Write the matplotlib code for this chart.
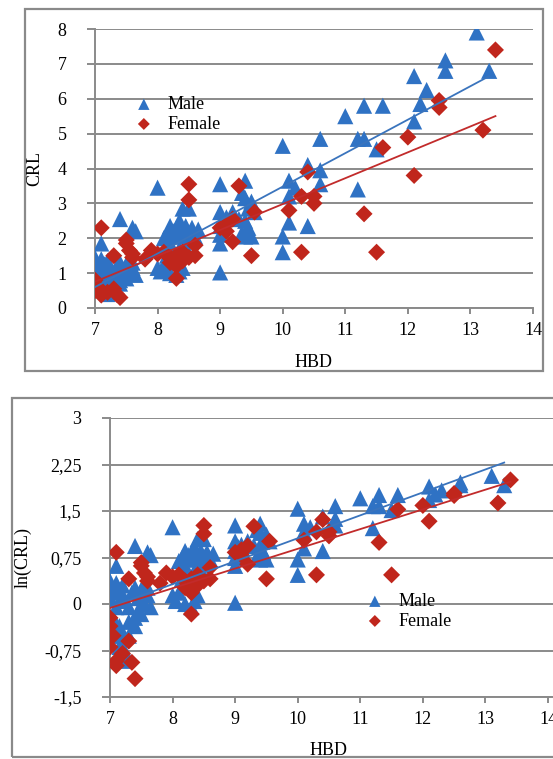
import numpy as np
import matplotlib
matplotlib.use("Agg")
import matplotlib.pyplot as plt
from matplotlib.patches import Rectangle

# ---------------- data ----------------
male_hbd = [13.1, 13.3, 12.6, 12.6, 12.1, 12.3, 12.2, 12.1, 11.0, 11.3, 11.6, 11.2, 11.3, 11.5, 11.2,
            10.6, 10.4, 10.6, 10.6, 10.0, 10.1, 10.2, 10.1, 10.1, 10.4, 10.0, 10.0,
            9.0, 9.4, 9.35, 9.4, 9.5, 9.45, 9.55, 9.4, 9.45, 9.35, 9.4, 9.5, 9.0, 9.1, 9.2, 9.0, 9.0,
            9.0, 9.05, 9.0, 9.3,
            8.0, 8.4, 8.5, 8.35, 8.45, 8.55, 8.65, 8.2, 8.25, 8.1, 8.15, 8.3, 8.2, 8.4, 8.5, 8.6,
            8.35, 8.45, 8.0, 8.05, 8.1, 8.2, 8.3, 8.4, 8.35, 8.15, 8.25, 8.5, 8.3, 8.45,
            7.1, 7.4, 7.6, 7.65, 7.0, 7.0, 7.05, 7.1, 7.15, 7.2, 7.2, 7.25, 7.3, 7.35, 7.4, 7.45,
            7.5, 7.55, 7.6, 7.65, 7.5, 7.4, 7.3, 7.0, 7.1, 7.05, 7.15, 7.2, 7.1, 7.15, 7.25, 7.2,
            7.3, 7.2, 7.4, 7.1, 7.45, 7.6, 7.55]
male_crl = [7.9, 6.8, 7.1, 6.8, 6.65, 6.25, 5.85, 5.35, 5.5, 5.8, 5.8, 4.85, 4.85, 4.55, 3.4,
            4.85, 4.1, 3.95, 3.55, 4.65, 3.65, 3.45, 3.2, 2.45, 2.35, 2.05, 1.6,
            3.55, 3.65, 3.3, 3.15, 3.05, 2.85, 2.75, 2.5, 2.3, 2.15, 2.05, 2.05, 2.75, 2.6, 2.75, 2.35, 2.1,
            1.85, 2.5, 1.02, 2.55,
            3.45, 2.85, 2.85, 2.5, 2.35, 2.3, 2.25, 2.35, 2.2, 2.0, 2.1, 2.05, 1.85, 2.05, 1.95, 2.05,
            1.7, 1.75, 1.15, 1.05, 1.2, 1.0, 0.95, 1.15, 1.05, 1.5, 1.55, 2.15, 2.3, 2.1,
            1.85, 2.55, 2.3, 2.2, 1.45, 1.3, 1.2, 1.4, 1.25, 1.35, 1.15, 1.05, 0.95, 1.2, 1.3, 1.1,
            1.25, 1.0, 1.15, 0.95, 0.85, 0.8, 0.75, 1.1, 0.95, 0.8, 0.7, 0.6, 0.6, 0.5, 0.45, 0.4,
            0.6, 0.5, 0.7, 0.65, 0.9, 1.3, 1.4]

female_hbd = [13.4, 13.2, 12.5, 12.5, 12.0, 12.1, 11.6, 11.3, 11.5,
              10.4, 10.3, 10.5, 10.5, 10.1, 10.3, 9.5, 9.3, 9.55, 9.2, 9.1, 9.0, 9.1, 9.2,
              8.5, 8.5, 8.6, 8.6, 8.5, 8.4, 8.3, 8.2, 8.1, 8.2, 8.0, 7.9, 8.3, 8.3, 8.4, 7.8,
              7.5, 7.55, 7.6, 7.5, 7.6, 7.3, 7.1, 7.0, 7.0, 7.0, 7.1, 7.1, 7.35, 7.4, 7.2, 7.05, 7.3]
female_crl = [7.4, 5.1, 5.95, 5.75, 4.9, 3.8, 4.6, 2.7, 1.6,
              3.9, 3.2, 3.2, 3.0, 2.8, 1.6, 1.5, 3.5, 2.75, 1.9, 2.2, 2.3, 2.4, 2.55,
              3.55, 3.1, 1.8, 1.5, 1.45, 1.6, 0.85, 1.3, 1.6, 1.45, 1.55, 1.65, 1.2, 1.5, 1.35, 1.4,
              1.85, 1.65, 1.55, 1.95, 1.45, 1.5, 2.3, 0.8, 0.7, 0.5, 0.4, 0.37, 0.39, 0.3, 0.45, 0.6, 0.55]

x_ticks = [7, 8, 9, 10, 11, 12, 13, 14]
crl_ticks = [0, 1, 2, 3, 4, 5, 6, 7, 8]
ln_ticks = [-1.5, -0.75, 0, 0.75, 1.5, 2.25, 3]
ln_tick_labels = ["-1,5", "-0,75", "0", "0,75", "1,5", "2,25", "3"]

# linear trend lines (slope, intercept) as shown in the reference
crl_trend_male = (0.96, -6.12)
crl_trend_female = (0.742, -4.44)
ln_trend_male = (0.37, -2.64)
ln_trend_female = (0.318, -2.29)

# ---------------- style ----------------
plt.rcParams['font.family'] = ['Liberation Serif', 'DejaVu Serif']
FS = 13
GRAY = '#8a8a8a'
BLUE = '#2f72c4'
RED = '#c0261c'
BLUE_LINE = '#3a74bd'
RED_LINE = '#c22b2b'

W, H = 553, 759
fig = plt.figure(figsize=(W / 100, H / 100), dpi=100)


def px_axes(x0, y0, x1, y1):
    return [x0 / W, 1 - y1 / H, (x1 - x0) / W, (y1 - y0) / H]


def style_axes(ax):
    for s in ('top', 'right'):
        ax.spines[s].set_visible(False)
    for s in ('left', 'bottom'):
        ax.spines[s].set_color(GRAY)
        ax.spines[s].set_linewidth(1.4)
    ax.yaxis.grid(True, color=GRAY, linewidth=1.4)
    ax.set_axisbelow(True)
    ax.tick_params(axis='y', direction='out', length=5.5, width=1.4, color=GRAY,
                   labelsize=FS, pad=15)
    ax.tick_params(axis='x', direction='out', length=4, width=1.4, color=GRAY,
                   labelsize=FS, pad=6)


def draw(ax, mx, my, fx, fy, tm, tf, loc):
    ax.scatter(mx, my, marker='^', s=135, color=BLUE, edgecolors='none', zorder=3, label='Male')
    ax.scatter(fx, fy, marker='D', s=75, color=RED, edgecolors='none', zorder=3, label='Female')
    xm = np.array([min(male_hbd), max(male_hbd)])
    xf = np.array([min(female_hbd), max(female_hbd)])
    ax.plot(xm, tm[0] * xm + tm[1], color=BLUE_LINE, lw=1.3, zorder=4)
    ax.plot(xf, tf[0] * xf + tf[1], color=RED_LINE, lw=1.3, zorder=4)
    leg = ax.legend(loc='upper left', bbox_to_anchor=loc, bbox_transform=fig.transFigure,
                    frameon=False, fontsize=FS, borderpad=0, borderaxespad=0,
                    handlelength=1.2, handletextpad=0.7, labelspacing=0.15,
                    markerscale=0.7)
    return leg


# ---------------- top panel: CRL ----------------
ax1 = fig.add_axes(px_axes(95, 29, 533, 308))
style_axes(ax1)
draw(ax1, male_hbd, male_crl, female_hbd, female_crl, crl_trend_male, crl_trend_female,
     (133 / W, 1 - 96 / H))
ax1.set_xlim(7, 14)
ax1.set_ylim(0, 8)
ax1.set_xticks(x_ticks)
ax1.set_yticks(crl_ticks)
ax1.set_xlabel('HBD', fontsize=FS)
ax1.set_ylabel('CRL', fontsize=FS)
ax1.xaxis.set_label_coords(0.5, -0.165)
ax1.yaxis.set_label_coords(-0.119, 0.5)

# ---------------- bottom panel: ln(CRL) ----------------
unit = (548 - 110) / 7
ax2 = fig.add_axes(px_axes(110, 418, 553, 697))
style_axes(ax2)
ln_male = np.log(male_crl)
ln_female = np.log(female_crl)
draw(ax2, male_hbd, ln_male, female_hbd, ln_female, ln_trend_male, ln_trend_female,
     (364 / W, 1 - 593 / H))
ax2.set_xlim(7, 7 + (553 - 110) / unit)
ax2.set_ylim(-1.5, 3)
ax2.set_xticks(x_ticks)
ax2.set_yticks(ln_ticks)
ax2.set_yticklabels(ln_tick_labels)
ax2.set_xlabel('HBD', fontsize=FS)
ax2.set_ylabel('ln(CRL)', fontsize=FS)
ax2.xaxis.set_label_coords((3.5 * unit) / 443, -0.162)
ax2.yaxis.set_label_coords(-0.176, 0.5)

# ---------------- panel frames ----------------
fig.add_artist(Rectangle((25 / W, 1 - 371 / H), 518 / W, 362 / H, transform=fig.transFigure,
                         fill=False, edgecolor=GRAY, linewidth=1.6))
fig.add_artist(Rectangle((12 / W, 1 - 757 / H), 560 / W, 359 / H, transform=fig.transFigure,
                         fill=False, edgecolor=GRAY, linewidth=1.6, clip_on=False))

fig.savefig('out.png', dpi=100)
